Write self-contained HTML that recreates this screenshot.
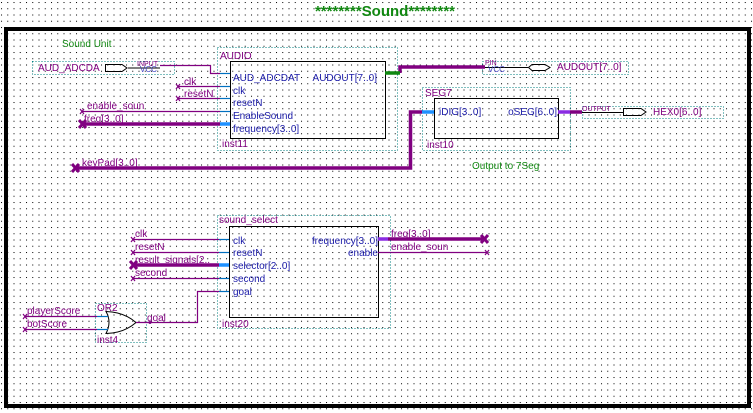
<!DOCTYPE html>
<html><head><meta charset="utf-8"><style>
html,body{margin:0;padding:0;background:#fff;}
svg{display:block;}
text{font-family:"Liberation Sans",sans-serif;}
</style></head><body>
<svg width="753" height="413" viewBox="0 0 753 413" xmlns="http://www.w3.org/2000/svg">
<defs>
<pattern id="g" x="1" y="2" width="6.25" height="6.25" patternUnits="userSpaceOnUse">
<rect x="0" y="0" width="1" height="1" fill="#000"/>
</pattern>
</defs>
<rect width="753" height="413" fill="#fff"/>
<rect width="753" height="413" fill="url(#g)"/>
<text x="385" y="16" font-size="15" font-weight="bold" fill="#118811" text-anchor="middle">********Sound********</text>
<rect x="6" y="29" width="743" height="377" fill="none" stroke="#000" stroke-width="4"/>
<text x="62" y="47" font-size="10" fill="#118811">Sound Unit</text>
<text x="472" y="169" font-size="10" fill="#118811">Output to 7Seg</text>

<g fill="none" stroke="#008080" stroke-width="1" stroke-dasharray="1,2">
<rect x="32.5" y="61.5" width="142" height="13"/>
<rect x="217.5" y="47.5" width="180" height="103"/>
<rect x="482.5" y="61.5" width="146" height="13"/>
<rect x="422.5" y="87.5" width="148" height="63"/>
<rect x="582.5" y="106.5" width="141" height="12"/>
<rect x="217.5" y="215.5" width="173" height="113"/>
<rect x="95.5" y="303.5" width="51" height="39"/>
</g>

<g fill="none" stroke="#000" stroke-width="1">
<rect x="230.5" y="61.5" width="155" height="77"/>
<rect x="434.5" y="98.5" width="124" height="40"/>
<rect x="229.5" y="226.5" width="149" height="91"/>
<path d="M105.5 64.5 H122 L127 68 L122 71.5 H105.5 Z"/>
<path d="M528.5 67.5 L532 64.5 H545 L550 67.5 L545 70.5 H532 Z"/>
<path d="M623.5 108.5 H641 L646 112 L641 115.5 H623.5 Z"/>
<path d="M106 311.5 Q112 322 106 333.5 Q124 333 136 322.5 Q124 312 106 311.5 Z"/>
<line x1="128" y1="68" x2="160" y2="68"/>
<line x1="485" y1="67.5" x2="528" y2="67.5"/>
<line x1="582" y1="112.5" x2="623" y2="112.5"/>
</g>

<g fill="none" stroke="#800080" stroke-width="1.2">
<path d="M160 65.5 H210.5 V73.5 H220"/>
<line x1="178" y1="86.5" x2="220" y2="86.5"/>
<line x1="178" y1="98.5" x2="220" y2="98.5"/>
<line x1="82" y1="111.5" x2="220" y2="111.5"/>
<line x1="133" y1="239.5" x2="219" y2="239.5"/>
<line x1="133" y1="252.5" x2="219" y2="252.5"/>
<line x1="133" y1="278.5" x2="219" y2="278.5"/>
<path d="M136 322.5 H197.5 V291.5 H219"/>
<line x1="25" y1="316.5" x2="97" y2="316.5"/>
<line x1="25" y1="329.5" x2="97" y2="329.5"/>
<line x1="378" y1="252.5" x2="487" y2="252.5"/>
</g>
<g fill="none" stroke="#0070c0" stroke-width="1.2">
<line x1="220" y1="73.5" x2="230" y2="73.5"/>
<line x1="220" y1="86.5" x2="230" y2="86.5"/>
<line x1="220" y1="98.5" x2="230" y2="98.5"/>
<line x1="220" y1="111.5" x2="230" y2="111.5"/>
<line x1="219" y1="239.5" x2="229" y2="239.5"/>
<line x1="219" y1="252.5" x2="229" y2="252.5"/>
<line x1="219" y1="278.5" x2="229" y2="278.5"/>
<line x1="219" y1="291.5" x2="229" y2="291.5"/>
<line x1="97" y1="316.5" x2="108" y2="316.5"/>
<line x1="97" y1="329.5" x2="108" y2="329.5"/>
</g>
<g fill="none" stroke="#800080" stroke-width="3.5">
<line x1="82" y1="124" x2="220" y2="124"/>
<path d="M75 168 H410.5 V112 H422"/>
<path d="M400 73 V67 H485"/>
<line x1="570" y1="112" x2="582" y2="112"/>
<line x1="133" y1="265" x2="219" y2="265"/>
<line x1="388" y1="239" x2="485" y2="239"/>
</g>
<g fill="none" stroke-width="3.5">
<line x1="220" y1="124" x2="230" y2="124" stroke="#1e90ff"/>
<line x1="422" y1="112" x2="434" y2="112" stroke="#1e90ff"/>
<line x1="219" y1="265" x2="229" y2="265" stroke="#1e90ff"/>
<line x1="385" y1="73" x2="400" y2="73" stroke="#118811"/>
<line x1="558" y1="112" x2="570" y2="112" stroke="#8a2be2"/>
<line x1="378" y1="239" x2="388" y2="239" stroke="#8a2be2"/>
</g>
<g stroke="#800080" stroke-width="1.2">
<path d="M176 84 l4 5 M180 84 l-4 5"/><path d="M176 96 l4 5 M180 96 l-4 5"/>
<path d="M80 109 l4 5 M84 109 l-4 5"/>
<path d="M131 237 l4 5 M135 237 l-4 5"/><path d="M131 250 l4 5 M135 250 l-4 5"/><path d="M131 276 l4 5 M135 276 l-4 5"/>
<path d="M23 314 l4 5 M27 314 l-4 5"/><path d="M23 327 l4 5 M27 327 l-4 5"/>
<path d="M485 250 l4 5 M489 250 l-4 5"/>
</g>
<g stroke="#800080" stroke-width="3">
<path d="M79 120 l7 8 M86 120 l-7 8"/><path d="M72 164 l7 8 M79 164 l-7 8"/>
<path d="M130 261 l7 8 M137 261 l-7 8"/><path d="M481 235 l7 8 M488 235 l-7 8"/>
</g>
<circle cx="150" cy="322.5" r="1.5" fill="#800080"/>

<g font-size="10" fill="#800080">
<text x="38" y="71">AUD_ADCDA</text>
<text x="137" y="66" font-size="7">INPUT</text>
<text x="140" y="72" font-size="8" fill="#4040c0">VCC</text>
<text x="220" y="59">AUDIO</text>
<text x="222" y="147">inst11</text>
<text x="184" y="85">clk</text>
<text x="184" y="97">resetN</text>
<text x="87" y="109">enable_soun</text>
<text x="84" y="122">freq[3..0]</text>
<text x="82" y="166">keyPad[3..0]</text>
<text x="485" y="65" font-size="7">PIN</text>
<text x="488" y="72" font-size="8" fill="#4040c0">VCC</text>
<text x="557" y="70">AUDOUT[7..0]</text>
<text x="425" y="96">SEG7</text>
<text x="427" y="148">inst10</text>
<text x="582" y="111" font-size="7">OUTPUT</text>
<text x="653" y="115">HEX0[6..0]</text>
<text x="219" y="223">sound_select</text>
<text x="222" y="327">inst20</text>
<text x="135" y="237">clk</text>
<text x="135" y="250">resetN</text>
<text x="135" y="263">result_signals[2..</text>
<text x="135" y="276">second</text>
<text x="391" y="237">freq[3..0]</text>
<text x="391" y="250">enable_soun</text>
<text x="97" y="311">OR2</text>
<text x="97" y="343">inst4</text>
<text x="27" y="314">playerScore</text>
<text x="27" y="327">botScore</text>
<text x="147" y="321">goal</text>
</g>
<g font-size="10" fill="#1a1aa8">
<text x="233" y="81">AUD_ADCDAT</text>
<text x="377" y="81" text-anchor="end">AUDOUT[7..0]</text>
<text x="233" y="94">clk</text>
<text x="233" y="106">resetN</text>
<text x="233" y="119">EnableSound</text>
<text x="233" y="132">frequency[3..0]</text>
<text x="439" y="115">iDIG[3..0]</text>
<text x="557" y="115" text-anchor="end">oSEG[6..0]</text>
<text x="233" y="244">clk</text>
<text x="233" y="256">resetN</text>
<text x="233" y="269">selector[2..0]</text>
<text x="233" y="282">second</text>
<text x="233" y="295">goal</text>
<text x="378" y="244" text-anchor="end">frequency[3..0]</text>
<text x="378" y="256" text-anchor="end">enable</text>
</g>
</svg>
</body></html>
